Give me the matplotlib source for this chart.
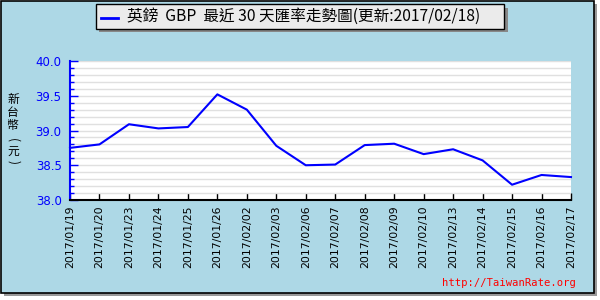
import matplotlib
matplotlib.use("Agg")
import matplotlib.pyplot as plt
from matplotlib.patches import Rectangle
from matplotlib.lines import Line2D
import numpy as np

dates = ["2017/01/19", "2017/01/20", "2017/01/23", "2017/01/24", "2017/01/25",
         "2017/01/26", "2017/02/02", "2017/02/03", "2017/02/06", "2017/02/07",
         "2017/02/08", "2017/02/09", "2017/02/10", "2017/02/13", "2017/02/14",
         "2017/02/15", "2017/02/16", "2017/02/17"]
rates = [38.75, 38.80, 39.09, 39.03, 39.05, 39.52, 39.30, 38.78, 38.50, 38.51,
         38.79, 38.81, 38.66, 38.73, 38.57, 38.22, 38.36, 38.33]
title = "英鎊  GBP  最近 30 天匯率走勢圖(更新:2017/02/18)"
ylabel_chars = ["新", "台", "幣", "(", "元", ")"]
url = "http://TaiwanRate.org"

plt.rcParams['font.family'] = ['Noto Sans CJK TC', 'DejaVu Sans']

fig = plt.figure(figsize=(6, 3), dpi=100)
fig.patch.set_facecolor('white')

W, H = 600, 300
def fx(px): return px / W
def fy(py): return 1 - py / H

# shadow and frame
fig.patches.append(Rectangle((fx(4), fy(296)), fx(597) - fx(4), fy(4) - fy(296),
                             transform=fig.transFigure, facecolor='#999999',
                             edgecolor='none', zorder=0))
fig.patches.append(Rectangle((fx(0.5), fy(292.5)), fx(594) - fx(0.5), fy(0.5) - fy(292.5),
                             transform=fig.transFigure, facecolor='#ADD8E6',
                             edgecolor='black', linewidth=1.2, zorder=1))

ax = fig.add_axes([fx(70), fy(200), fx(571) - fx(70), fy(61) - fy(200)])
ax.set_zorder(10)
ax.set_facecolor('white')
x = np.arange(len(dates))
ax.plot(x, rates, color='#0000FF', linewidth=1.5, zorder=3, clip_on=False)
ax.set_xlim(0, len(dates) - 1)
ax.set_ylim(38.0, 40.0)
ax.set_yticks(np.arange(38.0, 40.01, 0.5))
ax.set_yticks(np.arange(38.0, 40.01, 0.1), minor=True)
ax.set_yticklabels([f"{v:.1f}" for v in np.arange(38.0, 40.01, 0.5)],
                   color='#0000FF', fontsize=8.5, family='DejaVu Sans')
ax.grid(axis='y', which='both', color='#E0E0E0', linewidth=1, zorder=0)
ax.set_xticks(x)
ax.set_xticklabels(dates, rotation=90, fontsize=7.8, family='DejaVu Sans', color='black')
ax.tick_params(axis='y', which='major', direction='in', length=6, color='#0000FF', width=1, pad=6)
ax.tick_params(axis='y', which='minor', direction='in', length=3, color='#0000FF', width=1)
ax.tick_params(axis='x', direction='in', length=5, color='black', width=1, pad=4)
for s in ['top', 'right']:
    ax.spines[s].set_visible(False)
ax.spines['left'].set_color('#0000FF')
ax.spines['left'].set_linewidth(1.5)
ax.spines['bottom'].set_color('black')
ax.spines['bottom'].set_linewidth(1.5)

# y label stacked vertically
ypos = [99.5, 112.5, 125.5, 140, 151, 162]
for ch, yy in zip(ylabel_chars, ypos):
    rot = -90 if ch in "()" else 0
    fig.text(fx(13), fy(yy), ch, ha='center', va='center', fontsize=8.5,
             rotation=rot, color='black')

# legend box
fig.patches.append(Rectangle((fx(99), fy(32)), fx(508) - fx(99), fy(8) - fy(32),
                             transform=fig.transFigure, facecolor='#888888',
                             edgecolor='none', zorder=2))
fig.patches.append(Rectangle((fx(95.5), fy(28.5)), fx(504) - fx(95.5), fy(4) - fy(28.5),
                             transform=fig.transFigure, facecolor='#EBEBEB',
                             edgecolor='black', linewidth=1, zorder=3))
fig.lines.append(Line2D([fx(101), fx(118)], [fy(18), fy(18)], transform=fig.transFigure,
                        color='#0000FF', linewidth=2, zorder=4))
t = fig.text(fx(127), fy(16.5), title, ha='left', va='center', fontsize=11, color='black',
             zorder=5)
renderer = fig.canvas.get_renderer()
w = t.get_window_extent(renderer).width
t.set_fontsize(11 * 353 / w)

fig.text(fx(576), fy(283.5), url, ha='right', va='center', fontsize=7.6, color='#FF0000',
         family='DejaVu Sans Mono')

fig.savefig('out.png', dpi=100)
